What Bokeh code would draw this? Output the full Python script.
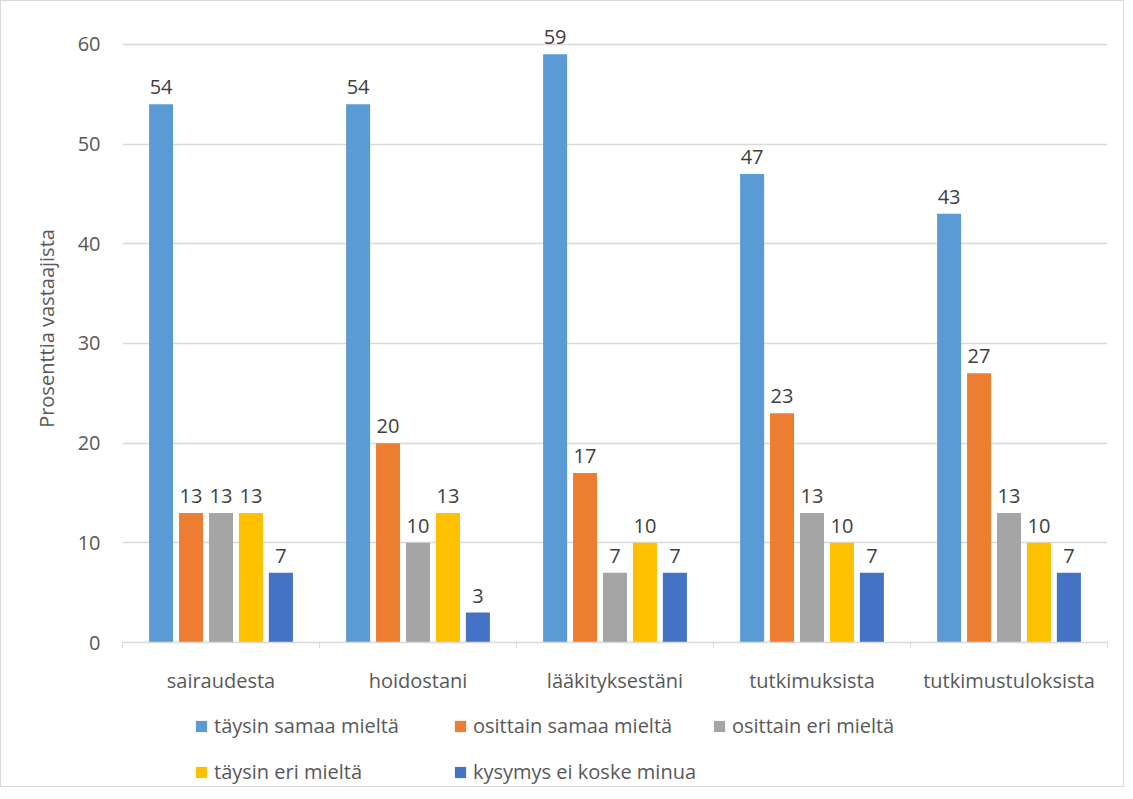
from bokeh.plotting import figure
from bokeh.layouts import column
from bokeh.models import ColumnDataSource, FixedTicker, Legend, LegendItem, Range1d, LabelSet
from bokeh.core.properties import value
from bokeh.embed import file_html
from bokeh.resources import INLINE

categories = ["sairaudesta", "hoidostani", "lääkityksestäni", "tutkimuksista", "tutkimustuloksista"]
series_names = ["täysin samaa mieltä", "osittain samaa mieltä", "osittain eri mieltä",
                "täysin eri mieltä", "kysymys ei koske minua"]
taysin_samaa = [54, 54, 59, 47, 43]
osittain_samaa = [13, 20, 17, 23, 27]
osittain_eri = [13, 10, 7, 13, 13]
taysin_eri = [13, 13, 10, 10, 10]
ei_koske = [7, 3, 7, 7, 7]
series_values = [taysin_samaa, osittain_samaa, osittain_eri, taysin_eri, ei_koske]
colors = ["#5B9BD5", "#ED7D31", "#A5A5A5", "#FFC000", "#4472C4"]
y_ticks = [0, 10, 20, 30, 40, 50, 60]

FONT = "Open Sans"
TEXT = "#595959"
FS = "20px"
W = 1122

p = figure(frame_width=985, frame_height=628, output_backend="svg", toolbar_location=None,
           x_range=Range1d(0, len(categories)), y_range=Range1d(0, 63),
           min_border_left=121, min_border_right=W - 121 - 985, min_border_top=13,
           min_border_bottom=60)
p.outline_line_color = None

bar_w = 0.122
step = 0.152
for k, (name, vals, col) in enumerate(zip(series_names, series_values, colors)):
    off = (k - 2) * step
    xs = [i + 0.5 + off for i in range(len(categories))]
    src = ColumnDataSource(dict(x=xs, top=vals, lab=[str(v) for v in vals]))
    p.vbar(x="x", top="top", width=bar_w, bottom=0, source=src, fill_color=col, line_color=None)
    p.add_layout(LabelSet(x="x", y="top", text="lab", source=src, text_align="center",
                          text_baseline="bottom", y_offset=10, text_font=value(FONT),
                          text_font_size=FS, text_color="#404040"))

# axes
p.xaxis.ticker = FixedTicker(ticks=[i + 0.5 for i in range(len(categories))],
                             minor_ticks=list(range(len(categories) + 1)))
p.xaxis.major_label_overrides = {i + 0.5: c for i, c in enumerate(categories)}
p.xaxis.major_tick_line_color = None
p.xaxis.major_tick_out = 0
p.xaxis.minor_tick_out = 6
p.xaxis.minor_tick_in = 0
p.xaxis.minor_tick_line_color = "#d9d9d9"
p.xaxis.axis_line_color = "#d9d9d9"
p.xaxis.axis_line_width = 1.5
p.xaxis.major_label_standoff = 18
p.xaxis.major_label_text_font = FONT
p.xaxis.major_label_text_font_size = FS
p.xaxis.major_label_text_color = TEXT

p.yaxis.ticker = FixedTicker(ticks=y_ticks)
p.yaxis.axis_line_color = None
p.yaxis.major_tick_line_color = None
p.yaxis.major_tick_out = 0
p.yaxis.minor_tick_line_color = None
p.yaxis.major_label_standoff = 22
p.yaxis.major_label_text_font = FONT
p.yaxis.major_label_text_font_size = FS
p.yaxis.major_label_text_color = TEXT
p.yaxis.axis_label = "Prosenttia vastaajista"
p.yaxis.axis_label_text_font = FONT
p.yaxis.axis_label_text_font_size = FS
p.yaxis.axis_label_text_font_style = "normal"
p.yaxis.axis_label_text_color = TEXT
p.yaxis.axis_label_standoff = 15

p.xgrid.grid_line_color = None
p.ygrid.grid_line_color = "#d9d9d9"
p.ygrid.grid_line_width = 1.5

# legend panel (swatch renderers sit outside the visible range)
LH = 84
lg = figure(width=W, height=LH, output_backend="svg", toolbar_location=None,
            x_range=Range1d(0, 1), y_range=Range1d(0, 1), min_border=0,
            x_axis_location=None, y_axis_location=None)
lg.grid.grid_line_color = None
lg.outline_line_color = None
rends = []
for name, col in zip(series_names, colors):
    rends.append(lg.vbar(x=[-5], top=[-5], bottom=[-6], width=0.1, fill_color=col, line_color=None))

cols_idx = [[0, 3], [1, 4], [2]]
xpos = [72, 331, 590]
item_h = 27
for idx, xp in zip(cols_idx, xpos):
    n = len(idx)
    h = n * item_h + (n - 1) * 19
    leg = Legend(items=[LegendItem(label=series_names[i], renderers=[rends[i]]) for i in idx],
                 location=(xp, LH - 10 - h), orientation="vertical",
                 glyph_width=14, glyph_height=14, label_standoff=6, spacing=19,
                 label_text_font=FONT, label_text_font_size=FS, label_text_color=TEXT,
                 border_line_color=None, background_fill_alpha=0, padding=0, margin=0,
                 label_height=item_h)
    lg.add_layout(leg, "center")

layout = column(p, lg, spacing=0)
layout.styles = {"border": "1px solid #d9d9d9"}

open("out.html", "w").write(file_html(layout, INLINE))
